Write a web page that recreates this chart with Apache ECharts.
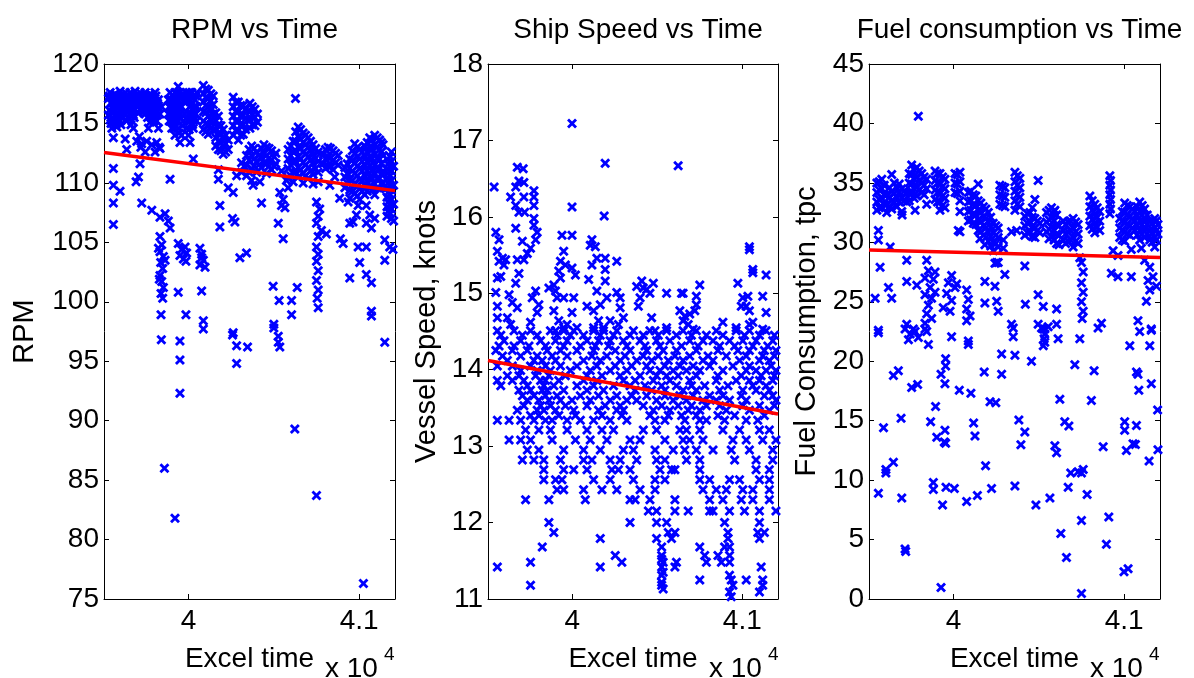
<!DOCTYPE html>
<html>
<head>
<meta charset="utf-8">
<script src="https://cdn.jsdelivr.net/npm/echarts@6/dist/echarts.min.js"></script>
<style>
html, body { margin: 0; padding: 0; background: #fff; }
#main { width: 1194px; height: 678px; }
</style>
</head>
<body>
<div id="main"></div>
<script>
// Excel serial time range shared by all three panels, ticks shown as x 10^4
var timeMin = 39505;
var timeMax = 41210;
var timeTicks = [40000, 41000];

// readings grouped by time: [time, value, value, ...]
var rpmData = [
  [39531, 117.1, 115.7], [39541, 117.6, 115.3], [39551, 116.3, 114.6],
  [39560, 116.9, 115.9, 113.8, 111.2, 109.8, 108.3, 106.5],
  [39570, 117.5, 115.1], [39580, 116.5, 114.7], [39590, 117.1, 115.8],
  [39599, 117.7, 115.2, 109.3], [39609, 116.4, 115.6], [39619, 117.0, 115.9],
  [39629, 117.6, 113.7], [39638, 116.3, 115.2, 112.8], [39648, 117.1, 116.0],
  [39658, 117.6, 115.8], [39668, 116.5, 115.2], [39677, 117.0, 115.7, 114.6],
  [39687, 117.7, 116.2], [39693, 110.1], [39697, 116.4, 113.5], [39707, 117.1, 110.5],
  [39716, 117.6, 111.6], [39726, 116.3, 113.3, 108.3], [39736, 117.0, 116.0],
  [39746, 117.6, 115.8, 112.6], [39755, 116.4, 113.5], [39765, 117.1, 114.6],
  [39775, 117.5, 115.8, 115.1], [39785, 116.4, 113.2, 107.7], [39794, 117.0, 115.5],
  [39804, 117.6, 115.8, 112.6], [39814, 116.4, 115.2, 113.4], [39824, 117.0, 114.6, 104.5],
  [39829, 101.9], [39833, 115.8, 112.9, 107.1, 105.5, 104.2, 102.2], [39837, 103.3],
  [39839, 100.7, 98.9], [39841, 96.8], [39843, 116.4, 104.8, 101.7], [39849, 102.8, 100.3],
  [39853, 103.8, 101.2], [39859, 86.0], [39863, 107.4, 103.5],
  [39882, 117.0, 115.8, 106.8], [39892, 117.6, 115.2, 110.3, 106.2], [39902, 116.4, 114.6],
  [39911, 117.0, 115.8], [39921, 117.6, 115.2, 114.0, 81.8], [39931, 116.4],
  [39940, 118.1, 117.0, 114.6, 104.9, 100.8], [39950, 117.6, 115.8, 113.4, 103.9, 96.7, 95.1, 92.3],
  [39960, 116.4, 114.0, 104.4], [39970, 115.2, 103.6], [39980, 117.0, 104.6],
  [39985, 103.4, 98.9], [39989, 117.6, 114.6, 104.1], [39999, 115.8, 114.0],
  [40009, 117.0, 116.4, 115.2, 113.4], [40019, 117.6], [40028, 115.8, 114.6, 112.0],
  [40038, 117.0], [40048, 117.6, 116.4, 115.2],
  [40067, 104.5, 103.1], [40077, 104.0, 103.7, 100.9],
  [40087, 118.2, 117.5, 116.8, 116.0, 115.2, 114.5, 103.5, 98.4, 97.7], [40097, 102.9],
  [40116, 117.8, 117.1, 116.4, 115.6, 114.8, 114.1], [40145, 117.3, 116.6, 115.8, 115.1, 114.4],
  [40175, 115.6, 114.9, 114.2, 113.5, 112.8, 111.1, 110.3], [40184, 108.1, 106.3],
  [40204, 114.5, 113.8, 113.1, 112.4], [40233, 113.6, 112.8, 109.6], [40258, 107.0, 97.2],
  [40262, 117.2, 116.4, 115.6, 114.8, 114.0, 109.2, 97.4], [40272, 106.7],
  [40282, 110.6, 96.3, 94.8], [40292, 116.8, 116.0, 115.2, 114.4, 113.6], [40301, 103.7],
  [40311, 111.7, 110.9], [40321, 116.5, 115.7, 114.9, 114.1], [40340, 112.3, 111.5, 110.6, 104.1],
  [40346, 96.2], [40360, 116.7, 116.0, 115.3, 114.6], [40370, 113.1, 112.3, 111.2, 110.2],
  [40379, 109.8], [40389, 116.2, 115.5, 114.8], [40399, 112.6, 111.8, 110.9], [40418, 110.1],
  [40428, 112.9, 112.1, 111.3, 108.3], [40457, 113.0, 112.3, 111.6, 110.8],
  [40487, 112.7, 111.9, 111.1], [40496, 101.3], [40500, 98.1, 97.8], [40512, 112.5, 111.6],
  [40526, 106.6, 97.1, 96.6], [40531, 100.1], [40535, 109.2, 96.2], [40545, 111.0, 108.1],
  [40555, 108.6, 105.3], [40565, 107.9], [40574, 110.2],
  [40584, 112.8, 112.0, 111.2, 110.4, 109.6], [40604, 100.1, 98.9],
  [40613, 113.5, 112.6, 111.8, 110.9, 110.1], [40623, 89.3], [40627, 117.1], [40637, 101.2],
  [40643, 114.7, 113.9, 113.0, 112.2, 111.3, 110.5], [40672, 114.2, 113.4, 112.6, 111.7, 110.8, 110.0],
  [40701, 113.8, 113.0, 112.2, 111.3, 110.4], [40730, 113.2, 112.4, 111.6, 110.7, 109.9],
  [40750, 108.4, 106.6, 104.6, 103.4, 101.8, 83.7], [40754, 100.3],
  [40760, 112.6, 111.8, 110.9, 110.1, 107.2, 105.5, 104.0, 102.6, 101.0, 99.5],
  [40769, 107.8], [40779, 106.0], [40789, 112.4, 111.6], [40808, 105.7],
  [40818, 113.0, 112.2, 111.4], [40828, 109.8], [40847, 112.7, 111.9, 111.1], [40857, 110.5],
  [40877, 112.3, 111.5], [40886, 108.7], [40890, 105.3], [40906, 104.9],
  [40916, 111.3, 110.5, 109.6], [40935, 108.4],
  [40945, 112.0, 111.2, 110.3, 109.4, 108.7, 106.6, 102.0], [40964, 106.7],
  [40974, 113.3, 112.5, 111.7, 110.8, 110.0, 109.1], [40984, 107.3], [40994, 108.1, 104.6],
  [41003, 112.8, 112.0, 111.2, 110.3, 109.5, 108.6, 103.3], [41025, 76.3],
  [41033, 113.1, 112.3, 111.5, 110.6, 109.8, 109.0], [41042, 108.1, 106.6, 104.6, 102.3],
  [41062, 113.8, 113.0, 112.2, 111.4, 110.5, 109.7, 107.3], [41072, 106.2, 101.6, 99.2, 98.8],
  [41091, 114.0, 113.2, 112.4, 111.5, 110.7, 109.9, 109.0, 107.0],
  [41120, 113.6, 112.8, 112.0, 111.2, 110.4, 109.5], [41140, 113.2, 112.3, 111.0, 110.0],
  [41150, 105.2, 103.5, 96.6], [41163, 112.0, 111.2, 110.4, 109.6, 108.8, 108.0, 107.2],
  [41179, 104.6], [41189, 112.6, 111.8, 111.0, 110.2, 109.4, 108.6, 107.8, 107.0],
  [41198, 104.4], [41202, 111.4, 109.8, 108.2, 106.8],
  // in-between readings of the dense stretches
  [39536, 117.3, 116.1], [39546, 116.7, 115.0], [39556, 117.3, 115.5], [39565, 116.7, 116.1],
  [39575, 117.3, 114.9], [39585, 116.7, 115.5], [39594, 117.3, 116.1], [39604, 116.7, 114.9],
  [39614, 117.3, 115.5], [39624, 116.7, 116.1], [39634, 117.3], [39643, 116.7, 115.5],
  [39653, 117.3, 116.1], [39663, 116.7, 114.9], [39673, 117.3, 116.1], [39682, 116.7, 115.5],
  [39692, 117.3], [39702, 116.7, 115.9], [39712, 117.3, 113.9], [39721, 116.7, 113.0],
  [39731, 117.3, 116.2], [39741, 116.7], [39750, 117.3, 116.1], [39760, 116.7, 115.5],
  [39770, 117.3, 116.1], [39780, 116.7, 115.5], [39789, 117.3, 116.1], [39799, 116.7, 115.2],
  [39809, 117.3, 116.1], [39819, 116.7, 115.7], [39828, 116.3, 113.0],
  [39887, 116.4, 115.2], [39897, 117.0, 115.8], [39906, 117.4, 115.2], [39916, 116.4, 114.6],
  [39926, 117.0, 115.8], [39935, 117.5, 115.3], [39945, 116.4, 114.2], [39955, 117.1, 115.4],
  [39965, 117.5, 114.8], [39975, 116.8, 115.8], [39994, 117.0, 115.3], [40004, 117.6, 114.5],
  [40014, 116.5, 115.8], [40024, 117.2, 114.9], [40033, 116.4, 115.3], [40043, 117.3, 115.8],
  [40101, 117.9, 117.2, 116.5, 115.9, 115.0, 114.3], [40131, 117.5, 116.9, 116.1, 115.3, 114.6],
  [40160, 115.9, 115.2, 114.5, 113.8, 113.1], [40190, 114.8, 114.1, 113.4, 112.7],
  [40218, 114.0, 113.3, 112.6], [40277, 116.8, 116.0, 115.2, 114.4],
  [40306, 116.5, 115.6, 114.8, 114.0], [40335, 116.2, 115.4, 114.5], [40374, 116.4, 115.7, 114.9],
  [40404, 115.8, 115.1],
  [40326, 111.4], [40355, 112.8, 111.9, 110.9], [40384, 112.9, 112.0, 111.4], [40413, 112.3, 111.5],
  [40442, 113.2, 112.5, 111.7], [40472, 112.9, 112.1, 111.4], [40502, 112.2, 111.4],
  [40599, 113.1, 112.3, 111.5, 110.6], [40628, 114.3, 113.5, 112.7, 111.8, 110.9],
  [40657, 114.5, 113.7, 112.9, 112.0, 111.1], [40686, 114.0, 113.2, 112.4, 111.5, 110.6],
  [40715, 113.5, 112.7, 111.9, 111.0], [40745, 112.9, 112.1, 111.2],
  [40803, 112.8, 112.0, 111.2], [40832, 112.9, 112.1, 111.4], [40862, 112.5, 111.7],
  [40930, 111.6, 110.8, 110.0], [40960, 112.7, 111.9, 111.0, 110.2, 109.3],
  [40989, 113.0, 112.2, 111.4, 110.6, 109.7, 108.9], [41018, 112.6, 111.8, 111.0, 110.2, 109.3],
  [41047, 113.4, 112.6, 111.8, 111.0, 110.1, 109.3], [41076, 113.6, 112.8, 112.0, 111.1, 110.3, 109.4],
  [41106, 113.8, 113.0, 112.1, 111.3, 110.4, 109.6], [41130, 113.4, 112.6, 111.6, 110.7, 109.9],
  [41169, 111.6, 110.8, 110.0, 109.2, 108.4, 107.6], [41182, 112.2, 111.4, 110.6, 109.8, 109.0, 108.2, 107.4]
];
var rpmTrend = [[39505, 112.55], [41210, 109.35]];

var speedData = [
  [39999, 17.22], [40194, 16.70], [40623, 16.67], [39541, 16.39], [39999, 16.13], [40188, 16.01],
  [39677, 16.65], [39712, 16.63], [39687, 16.47], [39716, 16.45], [39668, 16.39], [39638, 16.26],
  [39716, 16.26], [39668, 16.15], [39687, 16.06], [39720, 16.06], [39775, 16.34], [39775, 16.26],
  [39775, 16.15], [39775, 15.98], [39775, 15.89], [39785, 15.70], [39755, 15.59], [39736, 15.52],
  [39668, 15.85], [39707, 15.68], [39677, 15.44], [39716, 15.44], [39794, 15.80],
  [39551, 15.80], [39570, 15.70], [39560, 15.55], [39590, 15.46], [39609, 15.44], [39570, 15.42],
  [39599, 15.37], [39560, 15.20], [39580, 15.22], [39551, 15.01], [39560, 14.83], [39560, 14.68],
  [39629, 14.98], [39648, 14.88], [39677, 14.81], [39668, 15.13], [39687, 15.26], [39619, 14.68],
  [39638, 14.59], [39785, 15.03], [39804, 14.85], [39765, 14.94], [39755, 14.62], [39794, 14.75],
  [39940, 15.76], [39999, 15.76], [39950, 15.55], [39931, 15.42], [39921, 15.29], [39892, 15.11],
  [39863, 15.07], [39902, 15.03], [39931, 15.20], [39960, 15.37], [39911, 14.94], [39950, 14.94],
  [40009, 14.94], [39999, 14.75], [39892, 14.77], [39921, 14.64], [39970, 14.59], [40028, 14.55],
  [39902, 14.51], [39950, 14.55], [39999, 15.33], [40019, 15.24],
  [40116, 15.70], [40136, 15.61], [40106, 15.63], [40145, 15.46], [40194, 15.46], [40194, 15.31],
  [40116, 15.37], [40097, 15.18], [40194, 15.16], [40145, 15.03], [40165, 14.85], [40204, 14.94],
  [40087, 14.83], [40126, 14.77], [40155, 14.64], [40184, 14.55], [40262, 15.42], [40262, 15.01],
  [40282, 14.94], [40282, 14.81], [40301, 14.68], [40272, 14.59], [40223, 14.64], [40126, 14.55],
  [40379, 15.09], [40409, 15.16], [40438, 15.05], [40399, 14.94], [40389, 14.83], [40477, 15.13],
  [40457, 15.00], [40418, 15.07], [40555, 15.00], [40643, 15.00], [40652, 15.00], [40730, 14.96],
  [40730, 14.85], [40750, 15.11], [40633, 14.77], [40662, 14.70], [40652, 14.64], [40691, 14.73],
  [40721, 14.77], [40682, 14.59], [40711, 14.53], [40467, 14.68], [40555, 14.55], [40487, 14.51],
  [40886, 14.62], [40964, 14.55], [40974, 15.13], [41042, 15.61], [41042, 15.57], [41062, 15.31],
  [41062, 15.27], [41140, 15.24], [41120, 14.96], [41140, 14.75], [41003, 14.94], [41033, 14.96],
  [41023, 14.83], [41042, 14.77], [40994, 14.83], [41042, 14.59], [41062, 14.62], [41120, 14.53],
  [39560, 14.51], [39658, 14.51], [39755, 14.51], [39872, 14.51], [39950, 14.51], [40009, 14.51],
  [40126, 14.51], [40184, 14.51], [40262, 14.51], [40360, 14.51], [40457, 14.51], [40555, 14.51],
  [40652, 14.51], [40730, 14.51], [40847, 14.51], [40964, 14.51], [41042, 14.51], [41140, 14.51],
  [39599, 14.38], [39697, 14.38], [39814, 14.38], [39902, 14.38], [39970, 14.38], [40087, 14.38],
  [40155, 14.38], [40223, 14.38], [40301, 14.38], [40399, 14.38], [40496, 14.38], [40574, 14.38],
  [40691, 14.38], [40769, 14.38], [40828, 14.38], [40925, 14.38], [41003, 14.38], [41081, 14.38],
  [41179, 14.38],
  [39551, 14.25], [39648, 14.25], [39736, 14.25], [39853, 14.25], [39931, 14.25], [40028, 14.25],
  [40126, 14.25], [40253, 14.25], [40340, 14.25], [40438, 14.25], [40535, 14.25], [40613, 14.25],
  [40730, 14.25], [40857, 14.25], [40974, 14.25], [41042, 14.25], [41130, 14.25], [41198, 14.25],
  [39619, 14.12], [39775, 14.12], [39824, 14.12], [39902, 14.12], [40067, 14.12], [40165, 14.12],
  [40282, 14.12], [40379, 14.12], [40467, 14.12], [40565, 14.12], [40652, 14.12], [40769, 14.12],
  [40828, 14.12], [40984, 14.12], [41101, 14.12], [41159, 14.12],
  [39697, 13.99], [39794, 13.99], [39872, 13.99], [39989, 13.99], [40106, 13.99], [40223, 13.99],
  [40321, 13.99], [40457, 13.99], [40516, 13.99], [40594, 13.99], [40672, 13.99], [40750, 13.99],
  [40886, 13.99], [41023, 13.99], [41081, 13.99], [41140, 13.99], [41198, 13.99],
  [39560, 13.86], [39648, 13.86], [39716, 13.86], [39814, 13.86], [39843, 13.86], [39921, 13.86],
  [40067, 13.86], [40145, 13.86], [40301, 13.86], [40370, 13.86], [40477, 13.86], [40574, 13.86],
  [40691, 13.86], [40847, 13.86], [40964, 13.86], [41042, 13.86], [41101, 13.86], [41179, 13.86],
  [39687, 13.73], [39755, 13.73], [39824, 13.73], [39853, 13.73], [39950, 13.73], [40087, 13.73],
  [40184, 13.73], [40370, 13.73], [40467, 13.73], [40545, 13.73], [40652, 13.73], [40730, 13.73],
  [40867, 13.73], [41003, 13.73], [41081, 13.73], [41159, 13.73],
  [39736, 13.60], [39804, 13.60], [39863, 13.60], [39931, 13.60], [39999, 13.60], [40106, 13.60],
  [40223, 13.60], [40321, 13.60], [40379, 13.60], [40496, 13.60], [40594, 13.60], [40672, 13.60],
  [40769, 13.60], [40847, 13.60], [40925, 13.60], [41023, 13.60], [41198, 13.60],
  [39677, 13.47], [39794, 13.47], [39833, 13.47], [39902, 13.47], [40009, 13.47], [40155, 13.47],
  [40262, 13.47], [40301, 13.47], [40477, 13.47], [40574, 13.47], [40682, 13.47], [40750, 13.47],
  [40906, 13.47], [41042, 13.47], [41159, 13.47],
  [39560, 13.34], [39629, 13.34], [39697, 13.34], [39775, 13.34], [39843, 13.34], [39882, 13.34],
  [39970, 13.34], [40048, 13.34], [40126, 13.34], [40223, 13.34], [40321, 13.34], [40487, 13.34],
  [40545, 13.34], [40662, 13.34], [40750, 13.34], [40789, 13.34], [40896, 13.34], [41023, 13.34],
  [41091, 13.34],
  [39726, 13.21], [39804, 13.21], [39872, 13.21], [39970, 13.21], [40087, 13.21], [40175, 13.21],
  [40243, 13.21], [40418, 13.21], [40496, 13.21], [40633, 13.21], [40672, 13.21], [40750, 13.21],
  [40886, 13.21], [40984, 13.21], [41101, 13.21], [41159, 13.21],
  [39629, 13.08], [39697, 13.08], [39755, 13.08], [39882, 13.08], [40019, 13.08], [40106, 13.08],
  [40204, 13.08], [40340, 13.08], [40399, 13.08], [40545, 13.08], [40652, 13.08], [40691, 13.08],
  [40769, 13.08], [40945, 13.08], [41023, 13.08], [41120, 13.08], [41198, 13.08],
  [39736, 12.95], [39804, 12.95], [39950, 12.95], [40067, 12.95], [40165, 12.95], [40301, 12.95],
  [40360, 12.95], [40487, 12.95], [40594, 12.95], [40662, 12.95], [40730, 12.95], [40828, 12.95],
  [40935, 12.95], [41042, 12.95], [41179, 12.95],
  [39707, 12.82], [39775, 12.82], [39833, 12.82], [39931, 12.82], [40067, 12.82], [40116, 12.82],
  [40223, 12.82], [40282, 12.82], [40379, 12.82], [40496, 12.82], [40545, 12.82], [40672, 12.82],
  [40750, 12.82], [40955, 12.82], [41081, 12.82], [41179, 12.82],
  [39833, 12.69], [39950, 12.69], [40009, 12.69], [40087, 12.69], [40233, 12.69], [40272, 12.69],
  [40340, 12.69], [40516, 12.69], [40584, 12.69], [40604, 12.69], [40750, 12.69], [41081, 12.69],
  [41159, 12.69],
  [39833, 12.56], [39902, 12.56], [39940, 12.56], [40126, 12.56], [40223, 12.56], [40360, 12.56],
  [40487, 12.56], [40545, 12.56], [40750, 12.56], [40808, 12.56], [40925, 12.56], [40984, 12.56],
  [41101, 12.56], [41159, 12.56],
  [39911, 12.43], [39950, 12.43], [40067, 12.43], [40175, 12.43], [40262, 12.43], [40399, 12.43],
  [40487, 12.43], [40769, 12.43], [40847, 12.43], [40906, 12.43], [41003, 12.43], [41062, 12.43],
  [41159, 12.43],
  [39726, 12.30], [39863, 12.30], [40077, 12.30], [40340, 12.30], [40370, 12.30], [40457, 12.30],
  [40604, 12.30], [40808, 12.30], [40886, 12.30], [40994, 12.30], [41062, 12.30], [41159, 12.30],
  [40448, 12.15], [40496, 12.15], [40604, 12.15], [40682, 12.15], [40808, 12.15], [40828, 12.15],
  [40925, 12.15], [41013, 12.15], [41101, 12.15], [41198, 12.15],
  [39863, 12.00], [40340, 12.00], [40496, 12.00], [40555, 12.00], [40896, 12.00], [41101, 12.00],
  [39892, 11.87], [40565, 11.87], [40604, 11.87], [40916, 11.87], [41091, 11.87], [41130, 11.87],
  [40165, 11.79], [40496, 11.79], [40584, 11.79], [40916, 11.79], [41101, 11.79],
  [39824, 11.68], [40526, 11.68], [40750, 11.68], [40896, 11.68], [40925, 11.68],
  [40253, 11.57], [40526, 11.57], [40779, 11.57], [40857, 11.57], [40925, 11.57],
  [39755, 11.48], [40292, 11.48], [40535, 11.48], [40613, 11.48], [40789, 11.48], [40877, 11.48],
  [40925, 11.48], [39560, 11.42], [40165, 11.42], [40526, 11.42], [40604, 11.42], [41111, 11.42],
  [40526, 11.31], [40925, 11.31], [40750, 11.25], [40935, 11.25], [41023, 11.25], [41120, 11.25],
  [39755, 11.18], [40526, 11.18], [40945, 11.18], [41120, 11.18], [40925, 11.09], [41101, 11.09],
  [40935, 11.03], [40526, 11.52], [40535, 11.35], [40526, 11.22], [40535, 11.13],
  // in-between readings of the dense band
  [39580, 14.45], [39707, 14.45], [39794, 14.45], [39911, 14.45], [39989, 14.45], [40067, 14.45],
  [40165, 14.45], [40243, 14.45], [40340, 14.45], [40418, 14.45], [40506, 14.45], [40613, 14.45],
  [40701, 14.45], [40789, 14.45], [40886, 14.45], [41013, 14.45], [41101, 14.45], [41189, 14.45],
  [39570, 14.31], [39658, 14.31], [39746, 14.31], [39843, 14.31], [39950, 14.31], [40048, 14.31],
  [40136, 14.31], [40214, 14.31], [40321, 14.31], [40428, 14.31], [40516, 14.31], [40643, 14.31],
  [40740, 14.31], [40867, 14.31], [40955, 14.31], [41062, 14.31], [41150, 14.31],
  [39590, 14.18], [39697, 14.18], [39794, 14.18], [39882, 14.18], [39970, 14.18], [40116, 14.18],
  [40204, 14.18], [40311, 14.18], [40418, 14.18], [40506, 14.18], [40604, 14.18], [40691, 14.18],
  [40799, 14.18], [40906, 14.18], [41023, 14.18], [41120, 14.18], [41189, 14.18],
  [39560, 14.05], [39648, 14.05], [39755, 14.05], [39843, 14.05], [39931, 14.05], [40028, 14.05],
  [40145, 14.05], [40253, 14.05], [40350, 14.05], [40438, 14.05], [40545, 14.05], [40633, 14.05],
  [40711, 14.05], [40808, 14.05], [40945, 14.05], [41042, 14.05], [41169, 14.05],
  [39619, 13.92], [39687, 13.92], [39785, 13.92], [39863, 13.92], [39960, 13.92], [40087, 13.92],
  [40175, 13.92], [40282, 13.92], [40399, 13.92], [40496, 13.92], [40555, 13.92], [40623, 13.92],
  [40730, 13.92], [40857, 13.92], [40994, 13.92], [41111, 13.92], [41189, 13.92],
  [39580, 13.79], [39736, 13.79], [39833, 13.79], [39892, 13.79], [40028, 13.79], [40126, 13.79],
  [40243, 13.79], [40340, 13.79], [40428, 13.79], [40526, 13.79], [40613, 13.79], [40701, 13.79],
  [40779, 13.79], [40916, 13.79], [41062, 13.79], [41140, 13.79],
  [39707, 13.66], [39775, 13.66], [39843, 13.66], [39911, 13.66], [40048, 13.66], [40155, 13.66],
  [40262, 13.66], [40350, 13.66], [40438, 13.66], [40545, 13.66], [40633, 13.66], [40711, 13.66],
  [40808, 13.66], [40886, 13.66], [40994, 13.66], [41130, 13.66], [41179, 13.66],
  [39716, 13.53], [39814, 13.53], [39872, 13.53], [39960, 13.53], [40087, 13.53], [40194, 13.53],
  [40282, 13.53], [40418, 13.53], [40526, 13.53], [40623, 13.53], [40701, 13.53], [40789, 13.53],
  [40867, 13.53], [41003, 13.53], [41101, 13.53], [41189, 13.53],
  [39755, 13.40], [39804, 13.40], [39921, 13.40], [40019, 13.40], [40175, 13.40], [40292, 13.40],
  [40457, 13.40], [40565, 13.40], [40643, 13.40], [40730, 13.40], [40857, 13.40], [40955, 13.40],
  [41130, 13.40]
];
var speedTrend = [[39505, 14.12], [41210, 13.42]];

var fuelData = [
  [39541, 25.3], [39551, 35.0, 34.2, 33.4, 32.7], [39560, 31.0, 30.2, 22.6, 22.4, 8.9],
  [39570, 27.9], [39580, 35.3, 34.5, 33.7, 32.9], [39590, 14.4], [39604, 10.9, 10.6],
  [39609, 34.0, 33.2, 32.5], [39619, 26.2], [39629, 29.6], [39638, 35.7, 34.3, 33.5, 32.8, 25.3],
  [39648, 18.8, 11.5], [39668, 34.6, 33.8, 33.0], [39677, 19.2], [39693, 15.2],
  [39697, 34.5, 33.7, 32.6, 8.5], [39699, 32.3], [39716, 22.7, 4.2], [39720, 4.0],
  [39726, 34.2, 33.4, 28.5, 26.7, 23.1], [39736, 21.8], [39746, 22.3],
  [39755, 36.5, 35.7, 34.9, 34.1, 17.8], [39765, 22.7], [39775, 32.7, 22.5],
  [39785, 36.3, 35.5, 34.7, 33.9, 26.4], [39790, 18.05], [39794, 40.6, 22.0],
  [39814, 35.8, 35.0, 34.2], [39833, 27.0, 25.6, 23.2, 22.7],
  [39843, 35.3, 34.5, 33.2, 28.5, 24.0, 22.5], [39853, 27.6, 24.7, 21.4], [39863, 26.2],
  [39866, 14.9], [39872, 25.3, 23.6], [39882, 26.9, 9.8, 9.2],
  [39892, 36.0, 35.2, 34.4, 33.6, 27.5, 25.8], [39895, 16.2], [39902, 13.6],
  [39921, 35.8, 35.0, 34.2, 33.4, 32.7], [39927, 18.9, 0.97], [39936, 7.9], [39940, 24.5],
  [39946, 13.2], [39950, 35.3, 34.5, 33.7, 32.9, 18.1, 14.2], [39954, 20.2, 19.6, 13.1],
  [39956, 9.4], [39960, 25.7], [39970, 26.6], [39980, 24.2], [39989, 27.2, 25.1, 22.05],
  [40005, 9.3], [40009, 35.8, 35.0, 34.2, 26.2], [40019, 26.5], [40028, 31.0],
  [40034, 17.55], [40038, 35.9, 35.1, 34.3, 33.5, 32.6, 30.9], [40077, 26.0, 24.4, 23.4, 8.2],
  [40087, 34.2, 33.4, 32.6, 31.8, 25.2, 21.7, 21.4], [40097, 23.8], [40102, 17.3],
  [40116, 34.0, 33.2, 32.4, 31.6], [40118, 14.8], [40126, 13.7], [40140, 8.7],
  [40145, 34.9, 33.5, 32.7, 31.9, 31.0], [40155, 30.3], [40175, 33.0, 32.2, 31.4, 30.6],
  [40180, 19.1], [40184, 29.8, 26.7, 24.9], [40188, 11.2], [40204, 32.5, 31.7, 30.9, 30.1],
  [40214, 16.6], [40223, 9.3], [40233, 31.6, 30.8, 30.0, 29.3], [40243, 28.25, 26.3],
  [40248, 16.5], [40253, 28.3, 25.05], [40262, 31.2, 30.4, 29.6, 28.3, 24.2],
  [40272, 34.8, 34.0, 33.2], [40282, 20.6, 18.9], [40292, 30.2, 29.5],
  [40301, 34.6, 33.8, 33.0, 27.3], [40340, 30.9, 23.1], [40350, 22.05, 22.8],
  [40360, 35.9, 35.1, 34.3, 33.5, 32.7, 20.5, 9.5], [40370, 31.0], [40383, 15.05],
  [40389, 35.4, 34.6, 33.8, 33.0], [40395, 12.97], [40418, 32.2, 31.4, 30.6, 28.0, 14.05],
  [40421, 24.8], [40448, 32.5, 31.7, 30.9], [40457, 20.0], [40477, 33.6, 32.0, 31.2, 30.4],
  [40483, 7.9], [40496, 35.2, 25.6, 23.1], [40506, 31.6, 30.8], [40516, 22.8],
  [40526, 24.6, 22.7, 21.3], [40531, 21.9], [40535, 22.7, 22.3, 21.6],
  [40545, 32.5, 31.7, 30.9], [40555, 22.9], [40565, 8.5], [40574, 32.9, 32.1, 31.3, 30.5],
  [40594, 32.7, 12.9], [40604, 32.3, 31.5, 30.7, 29.9, 24.4, 23.1, 12.3], [40613, 21.9],
  [40623, 16.8], [40629, 5.5], [40643, 31.8, 31.0, 30.2], [40652, 14.9], [40662, 3.5],
  [40672, 31.7, 30.9, 30.1, 9.4], [40676, 14.55], [40687, 10.6],
  [40701, 32.0, 31.2, 30.4, 29.6], [40711, 19.7], [40730, 31.5, 30.7, 29.9, 10.7],
  [40740, 28.7, 21.9], [40750, 28.3, 26.6, 25.0, 10.6, 6.6, 0.47],
  [40754, 23.6], [40760, 27.5, 25.8, 24.2, 10.9], [40783, 8.8],
  [40799, 33.9, 33.0, 32.2, 31.4], [40808, 16.7], [40824, 19.2],
  [40828, 33.2, 32.4, 31.6, 30.8], [40847, 22.8], [40857, 32.6, 31.8, 31.0],
  [40867, 23.2], [40877, 12.8], [40896, 4.6], [40910, 6.9],
  [40916, 35.6, 34.8, 34.0, 33.2, 32.4], [40925, 27.4], [40935, 29.3], [40964, 28.9, 27.1],
  [40974, 32.0, 31.2, 30.4], [40999, 2.3], [41003, 33.3, 32.5, 31.7, 30.9, 30.1, 14.9, 14.2],
  [41013, 12.5], [41023, 2.55], [41033, 33.0, 32.2, 31.4, 30.6, 21.3],
  [41042, 29.4, 27.1], [41052, 13.05], [41062, 32.6, 31.8, 31.0], [41066, 13.0],
  [41072, 19.1, 14.6], [41081, 23.4, 18.9], [41086, 17.55],
  [41091, 33.4, 32.6, 31.8, 31.0, 30.2, 22.5], [41101, 29.5],
  [41120, 32.8, 32.0, 31.2, 30.4, 28.5], [41130, 25.05], [41140, 26.8], [41146, 11.6],
  [41150, 31.8, 31.0, 30.2, 27.9, 26.0, 21.3], [41159, 22.7, 22.6, 18.1], [41169, 27.1],
  [41179, 32.0, 31.2, 30.4, 29.6], [41189, 26.3], [41196, 15.9],
  [41198, 31.5, 30.7, 12.55],
  // in-between readings of the dense band
  [39565, 35.1, 34.4, 33.6, 32.9], [39594, 34.8, 34.0, 33.2], [39624, 34.6, 33.8, 33.0],
  [39653, 35.0, 34.1, 33.3], [39682, 34.9, 34.2, 33.4], [39711, 34.3, 33.5],
  [39741, 35.8, 35.0, 34.2, 33.5], [39770, 36.1, 35.3, 34.5, 33.7], [39799, 36.0, 35.2, 34.4],
  [39828, 35.5, 34.8, 34.0], [39906, 35.8, 35.0, 34.2, 33.4], [39936, 35.5, 34.7, 33.9, 33.1],
  [40023, 35.7, 34.9, 34.1], [40101, 34.3, 33.5, 32.7, 31.9], [40131, 33.9, 33.1, 32.3, 31.5],
  [40160, 33.3, 32.5, 31.7, 30.9], [40190, 32.8, 32.0, 31.2, 30.4], [40218, 32.1, 31.3, 30.5, 29.7],
  [40248, 31.4, 30.6, 29.9], [40287, 34.7, 33.9, 33.1], [40374, 35.6, 34.8, 34.0, 33.2],
  [40433, 32.4, 31.6, 30.8], [40462, 32.9, 32.1, 31.3, 30.5], [40492, 31.8, 31.0],
  [40560, 32.7, 31.9, 31.1, 30.3], [40589, 32.6, 31.8, 31.0, 30.2], [40618, 31.4, 30.6, 29.8],
  [40657, 31.5, 30.7, 29.9], [40686, 31.8, 31.0, 30.2], [40716, 31.7, 30.9, 30.1],
  [40813, 33.5, 32.7, 31.9, 31.1], [40842, 32.9, 32.1, 31.3], [40920, 35.2, 34.4, 33.6, 32.8],
  [40989, 32.6, 31.8, 31.0, 30.2], [41018, 33.1, 32.3, 31.5, 30.7], [41047, 32.8, 32.0, 31.2],
  [41076, 33.0, 32.2, 31.4, 30.6], [41106, 33.1, 32.3, 31.5, 30.7], [41135, 32.3, 31.5, 30.7],
  [41164, 31.6, 30.8, 30.0], [41189, 31.8, 31.0, 30.2]
];
var fuelTrend = [[39505, 29.36], [41210, 28.72]];

function toPoints(groups) {
  var pts = [];
  groups.forEach(function (g) {
    for (var k = 1; k < g.length; k++) pts.push([g[0], g[k]]);
  });
  return pts;
}

var panels = [
  { title: 'RPM vs Time', yName: 'RPM', yMin: 75, yMax: 120, yStep: 5, data: rpmData, trend: rpmTrend, left: 104, width: 291, nameGap: 65 },
  { title: 'Ship Speed vs Time', yName: 'Vessel Speed, knots', yMin: 11, yMax: 18, yStep: 1, data: speedData, trend: speedTrend, left: 488, width: 290, nameGap: 47 },
  { title: 'Fuel consumption vs Time', yName: 'Fuel Consumption, tpc', yMin: 0, yMax: 45, yStep: 5, data: fuelData, trend: fuelTrend, left: 869, width: 291, nameGap: 48 }
];

var font = '"Liberation Sans", Arial, Helvetica, sans-serif';
// bold 'x' marker like MATLAB's
var xMark = 'path://M0,2 L2,0 L5,3 L8,0 L10,2 L7,5 L10,8 L8,10 L5,7 L2,10 L0,8 L3,5 Z';
var frameLine = { show: true, onZero: false, lineStyle: { color: '#000', width: 1 } };
var innerTick = { show: true, inside: true, length: 5, lineStyle: { color: '#000', width: 1 } };

var grids = [], xAxes = [], yAxes = [], series = [], titles = [], graphics = [];

panels.forEach(function (p, i) {
  grids.push({ left: p.left, top: 64, width: p.width, height: 540 });
  titles.push({
    text: p.title, left: p.left + p.width / 2, top: 11, textAlign: 'center',
    textStyle: { fontFamily: font, fontSize: 28, fontWeight: 'normal', color: '#000' }
  });
  xAxes.push({
    type: 'value', gridIndex: i, position: 'bottom', min: timeMin, max: timeMax,
    name: 'Excel time', nameLocation: 'middle', nameGap: 46,
    nameTextStyle: { fontFamily: font, fontSize: 28, color: '#000' },
    axisLine: frameLine,
    axisTick: Object.assign({ customValues: timeTicks }, innerTick),
    axisLabel: {
      customValues: timeTicks, margin: 8, fontFamily: font, fontSize: 28, color: '#000',
      formatter: function (v) { return String(v / 10000); }
    },
    splitLine: { show: false }
  });
  xAxes.push({
    type: 'value', gridIndex: i, position: 'top', min: timeMin, max: timeMax,
    axisLine: frameLine,
    axisTick: Object.assign({ customValues: timeTicks }, innerTick),
    axisLabel: { show: false }, splitLine: { show: false }
  });
  yAxes.push({
    type: 'value', gridIndex: i, position: 'left', min: p.yMin, max: p.yMax, interval: p.yStep,
    name: p.yName, nameLocation: 'middle', nameRotate: 90, nameGap: p.nameGap,
    nameTextStyle: { fontFamily: font, fontSize: 29, color: '#000' },
    axisLine: frameLine, axisTick: innerTick,
    axisLabel: { margin: 5, fontFamily: font, fontSize: 28, color: '#000' },
    splitLine: { show: false }
  });
  yAxes.push({
    type: 'value', gridIndex: i, position: 'right', min: p.yMin, max: p.yMax, interval: p.yStep,
    axisLine: frameLine, axisTick: innerTick,
    axisLabel: { show: false }, splitLine: { show: false }
  });
  series.push({
    type: 'scatter', xAxisIndex: 2 * i, yAxisIndex: 2 * i,
    data: toPoints(p.data), symbol: xMark, symbolSize: 10, silent: true,
    itemStyle: { color: '#0000ff', opacity: 1 }
  });
  series.push({
    type: 'line', xAxisIndex: 2 * i, yAxisIndex: 2 * i, data: p.trend,
    showSymbol: false, silent: true, z: 5,
    lineStyle: { color: '#ff0000', width: 3.5 }
  });
  // MATLAB style exponent under the right end of the time axis
  graphics.push({
    type: 'text', x: p.left + 221, y: 683,
    style: { text: 'x 10', font: '28px ' + font, fill: '#000', verticalAlign: 'bottom' }
  });
  graphics.push({
    type: 'text', x: p.left + 280, y: 664,
    style: { text: '4', font: '19px ' + font, fill: '#000', verticalAlign: 'bottom' }
  });
});

var chart = echarts.init(document.getElementById('main'), null, { renderer: 'canvas' });
chart.setOption({
  animation: false,
  backgroundColor: '#fff',
  title: titles,
  grid: grids,
  xAxis: xAxes,
  yAxis: yAxes,
  series: series,
  graphic: graphics
});
</script>
</body>
</html>
